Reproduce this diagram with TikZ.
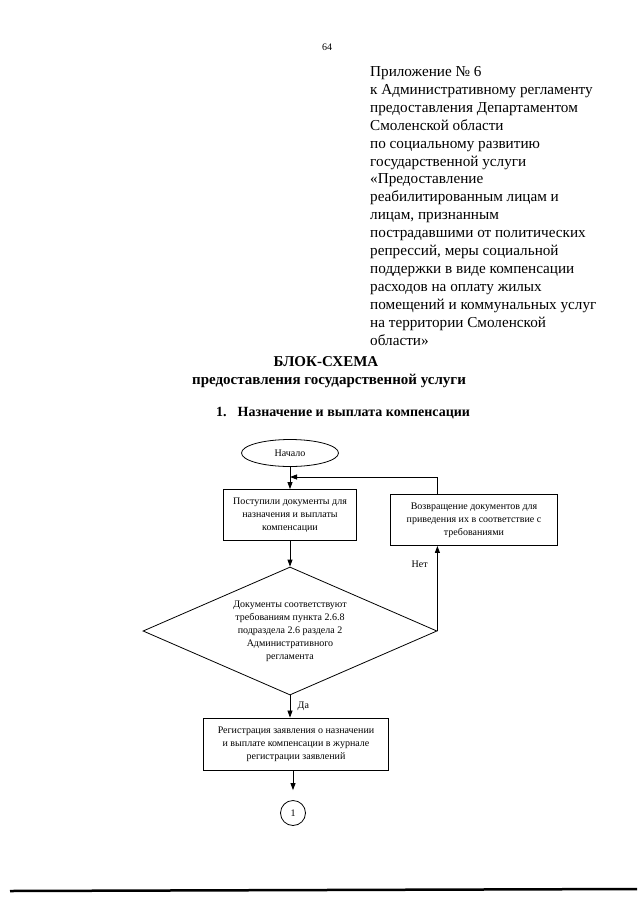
\documentclass[tikz,border=0pt]{standalone}
\usepackage{fontspec}
\setmainfont{Liberation Serif}
\usetikzlibrary{positioning,arrows.meta,shapes.geometric}

\begin{document}
\begin{tikzpicture}[x=1pt, y=-1pt,
  every node/.style={font=\fontsize{10}{13}\selectfont},
  block/.style={draw, line width=0.9pt, rectangle, align=center, inner sep=2pt},
  decision/.style={draw, line width=0.8pt, diamond, aspect=2.3, inner sep=0pt, align=center,
                   minimum width=294pt, minimum height=128pt},
  term/.style={draw, line width=0.8pt, ellipse, minimum width=97pt, minimum height=27pt},
  conn/.style={draw, line width=0.8pt, circle, minimum size=25pt, inner sep=0pt},
  arr/.style={-{Triangle[length=7pt,width=5pt]}, line width=0.8pt}]

  \useasboundingbox (0,0) rectangle (640,905);
  % Page number
  \node (page) at (327,47) {64};
  % Appendix header
  \node[anchor=north west, align=left, inner sep=0pt, font=\fontsize{15.2}{17.95}\selectfont] (appx) at (370,66)
    {Приложение № 6\\
     к Административному регламенту\\
     предоставления Департаментом\\
     Смоленской области\\
     по социальному развитию\\
     государственной услуги\\
     «Предоставление\\
     реабилитированным лицам и\\
     лицам, признанным\\
     пострадавшими от политических\\
     репрессий, меры социальной\\
     поддержки в виде компенсации\\
     расходов на оплату жилых\\
     помещений и коммунальных услуг\\
     на территории Смоленской\\
     области»};
  % Title
  \node[font=\fontsize{15}{18}\bfseries] (title) at (326,362) {БЛОК-СХЕМА};
  \node[font=\fontsize{15}{18}\bfseries] (subtitle) at (329,381) {предоставления государственной услуги};
  \node[font=\fontsize{14}{17}\bfseries] (part) at (343,413) {1.\hspace{0.8em}Назначение и выплата компенсации};
  % Flowchart
  \node[term] (start) at (290,453) {Начало};
  \coordinate (join) at (290,477);
  \node[block, minimum width=133pt, minimum height=51pt] (recv) at (290,515)
    {Поступили документы для\\назначения и выплаты\\компенсации};
  \node[block, minimum width=167pt, minimum height=51pt] (ret) at (474,520)
    {Возвращение документов для\\приведения их в соответствие с\\требованиями};
  \node[decision] (check) at (290,631)
    {Документы соответствуют\\требованиям пункта 2.6.8\\подраздела 2.6 раздела 2\\Административного\\регламента};
  \node[block, minimum width=185pt, minimum height=52pt] (reg) at (296,744)
    {Регистрация заявления о назначении\\и выплате компенсации в журнале\\регистрации заявлений};
  \node[conn] (one) at (293,813) {1};
  % Connectors
  \draw[arr] (start) -- (recv);
  \draw[arr] (recv) -- (check);
  \draw[arr] (check.east) -- (check.east |- ret.south) node[pos=0.78, left=6pt] {Нет};
  \draw[arr] (check.east |- ret.north) |- (join);
  \draw[arr] (check.south) -- (check.south |- reg.north) node[midway, right=4pt] {Да};
  \draw[arr, shorten >=10pt] (one |- reg.south) -- (one);
  % Bottom rule
  \draw[line width=2.5pt] (10,891) -- (637,889);
\end{tikzpicture}
\end{document}
